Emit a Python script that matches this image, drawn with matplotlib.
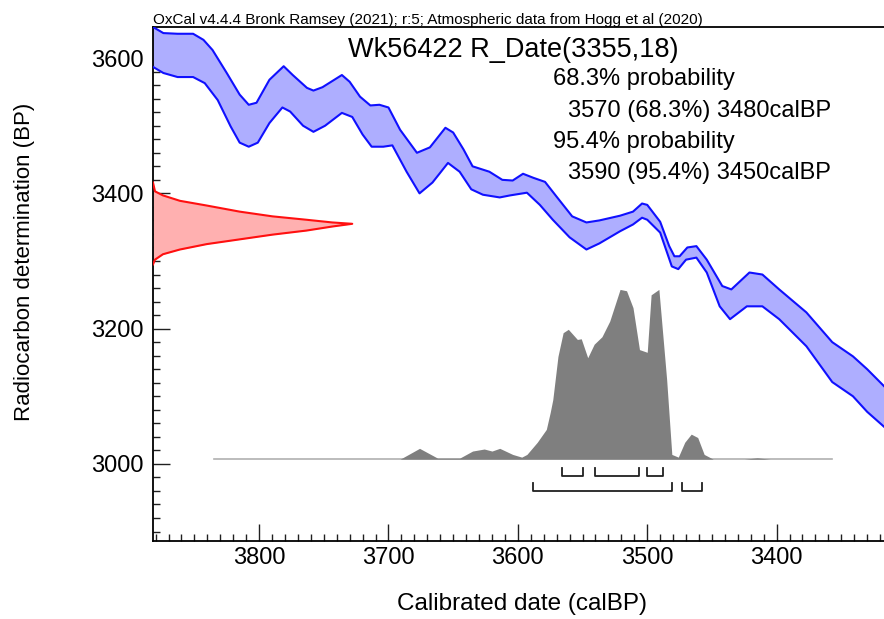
import numpy as np
import matplotlib
matplotlib.use("Agg")
import matplotlib.pyplot as plt
from matplotlib.ticker import MultipleLocator

plt.rcParams['font.family'] = ['Liberation Sans', 'DejaVu Sans']

# calibration curve (IntCal20 band)
upper_cal = [3882, 3874, 3863, 3851, 3843, 3836, 3825, 3815, 3808, 3802,
             3792, 3781, 3774, 3763, 3758, 3751, 3736, 3730, 3722, 3714,
             3707, 3700, 3691, 3678, 3668, 3656, 3650, 3642, 3635, 3622,
             3612, 3604, 3596, 3588, 3579, 3570, 3558, 3547, 3537, 3521,
             3511, 3504, 3500, 3490, 3483, 3479, 3475, 3469, 3462, 3454,
             3442, 3435, 3421, 3411, 3398, 3377, 3357, 3341, 3330, 3317]
upper_bp = [3646, 3637, 3636, 3636, 3627, 3612, 3578, 3546, 3531, 3534,
            3568, 3588, 3575, 3556, 3552, 3557, 3575, 3565, 3543, 3530,
            3531, 3527, 3494, 3460, 3468, 3497, 3490, 3465, 3440, 3432,
            3420, 3419, 3429, 3423, 3417, 3395, 3366, 3357, 3360, 3367,
            3373, 3385, 3383, 3358, 3322, 3307, 3307, 3320, 3322, 3302,
            3263, 3258, 3283, 3280, 3258, 3224, 3180, 3159, 3140, 3115]
lower_cal = [3882, 3874, 3863, 3851, 3842, 3832, 3822, 3815, 3808, 3801,
             3792, 3782, 3776, 3766, 3758, 3749, 3736, 3728, 3720, 3713,
             3704, 3697, 3686, 3676, 3666, 3654, 3645, 3636, 3627, 3614,
             3606, 3593, 3583, 3573, 3560, 3547, 3537, 3521, 3511, 3504,
             3500, 3490, 3481, 3476, 3470, 3462, 3454, 3444, 3436, 3423,
             3411, 3398, 3377, 3357, 3341, 3330, 3317]
lower_bp = [3587, 3578, 3572, 3572, 3563, 3538, 3499, 3475, 3469, 3475,
            3504, 3527, 3521, 3500, 3491, 3500, 3519, 3513, 3487, 3469,
            3469, 3471, 3432, 3400, 3416, 3445, 3432, 3406, 3398, 3394,
            3397, 3401, 3383, 3361, 3335, 3317, 3326, 3344, 3354, 3364,
            3361, 3342, 3292, 3288, 3302, 3305, 3283, 3233, 3214, 3233,
            3233, 3214, 3174, 3121, 3100, 3077, 3055]

# radiocarbon measurement R_Date(3355,18): relative probability by BP
rdate_bp = [3416, 3403, 3397, 3389, 3382, 3373, 3366, 3361, 3357, 3355,
            3351, 3345, 3339, 3332, 3325, 3317, 3310, 3302, 3295]
rdate_p = [0.0, 0.01, 0.05, 0.135, 0.27, 0.435, 0.6, 0.77, 0.9, 1.0,
           0.9, 0.77, 0.6, 0.435, 0.27, 0.135, 0.05, 0.01, 0.0]

# calibrated distribution
hist_cal = [3835, 3691, 3676, 3662, 3645, 3635, 3626, 3620, 3614, 3604,
            3597, 3593, 3585, 3578, 3575, 3573, 3569, 3565, 3561, 3554,
            3551, 3546, 3541, 3535, 3529, 3521, 3516, 3511, 3506, 3500,
            3497, 3491, 3485, 3481, 3476, 3471, 3466, 3461, 3456, 3449,
            3425, 3415, 3405, 3357]
hist_p = [0, 0, 16, 1.5, 1.5, 12, 15, 12, 16, 7,
          3, 7, 25, 44, 69, 88, 152, 187, 192, 177,
          178, 150, 170, 181, 204, 251, 249, 224, 162, 158,
          243, 251, 118, 7, 3, 25, 37, 32, 7, 0,
          0, 2, 0, 0]

# ranges
range68 = [(3566, 3550), (3540, 3506), (3500, 3488)]
range95 = [(3588, 3481), (3473, 3458)]

W, H = 884, 619
fig = plt.figure(figsize=(W / 100, H / 100), dpi=100)
ax = fig.add_axes([153 / W, 1 - 541 / H, 1 - 153 / W, (541 - 27) / H])

# blue band
poly_x = list(upper_cal) + list(lower_cal[::-1])
poly_y = list(upper_bp) + list(lower_bp[::-1])
ax.fill(poly_x, poly_y, color='#aeaeff', lw=0, zorder=2)
ax.plot(upper_cal, upper_bp, color='#1010ff', lw=1.5, zorder=3,
        solid_joinstyle='round')
ax.plot(lower_cal, lower_bp, color='#1010ff', lw=1.5, zorder=3,
        solid_joinstyle='round')

# red measurement on the left axis
xleft = 3882
red_w = 154
red_x = xleft - np.array(rdate_p) * red_w
ax.fill_betweenx(rdate_bp, xleft, red_x, color='#ffb0b0', lw=0, zorder=2)
ax.plot(red_x, rdate_bp, color='#ff1010', lw=1.5, zorder=3)

# calibrated distribution
base = 3007
ax.fill_between(hist_cal, base, base + np.array(hist_p), color='#7f7f7f',
                lw=0, zorder=2)
ax.plot([hist_cal[0], hist_cal[-1]], [base, base], color='#b0b0b0', lw=1.2,
        zorder=1)

# range brackets
for (a, b) in range68:
    ax.plot([a, a, b, b], [2994, 2982, 2982, 2994], color='#202020', lw=1.3)
for (a, b) in range95:
    ax.plot([a, a, b, b], [2972, 2960, 2960, 2972], color='#202020', lw=1.3)

ax.set_xlim(3882, 3317)
ax.set_ylim(2886, 3646)
ax.xaxis.set_major_locator(MultipleLocator(100))
ax.xaxis.set_minor_locator(MultipleLocator(10))
ax.yaxis.set_major_locator(MultipleLocator(200))
ax.yaxis.set_minor_locator(MultipleLocator(20))
ax.tick_params(which='both', direction='in', width=1, color='#202020')
ax.tick_params(which='major', length=12, labelsize=17)
ax.tick_params(axis='x', which='major', pad=4)
ax.tick_params(axis='y', which='major', pad=7)
ax.tick_params(which='minor', length=5)
ax.spines['right'].set_visible(False)
for s in ['left', 'bottom', 'top']:
    ax.spines[s].set_linewidth(1.3)

fig.text(153 / W, 1 - 24 / H,
         'OxCal v4.4.4 Bronk Ramsey (2021); r:5; Atmospheric data from Hogg et al (2020)',
         fontsize=11, va='baseline', ha='left')
fig.text(348 / W, 1 - 57 / H, 'Wk56422 R_Date(3355,18)', fontsize=19.5,
         va='baseline', ha='left')
fig.text(553 / W, 1 - 85 / H, '68.3% probability', fontsize=17, va='baseline')
fig.text(568 / W, 1 - 117 / H, '3570 (68.3%) 3480calBP', fontsize=17,
         va='baseline')
fig.text(553 / W, 1 - 148 / H, '95.4% probability', fontsize=17, va='baseline')
fig.text(568 / W, 1 - 179 / H, '3590 (95.4%) 3450calBP', fontsize=17,
         va='baseline')

fig.text(522 / W, 1 - 604 / H, 'Calibrated date (calBP)', fontsize=17.5,
         ha='center', va='center')
fig.text(25 / W, 1 - 262 / H, 'Radiocarbon determination (BP)', fontsize=16,
         rotation=90, ha='center', va='center')

fig.savefig('out.png', dpi=100)
